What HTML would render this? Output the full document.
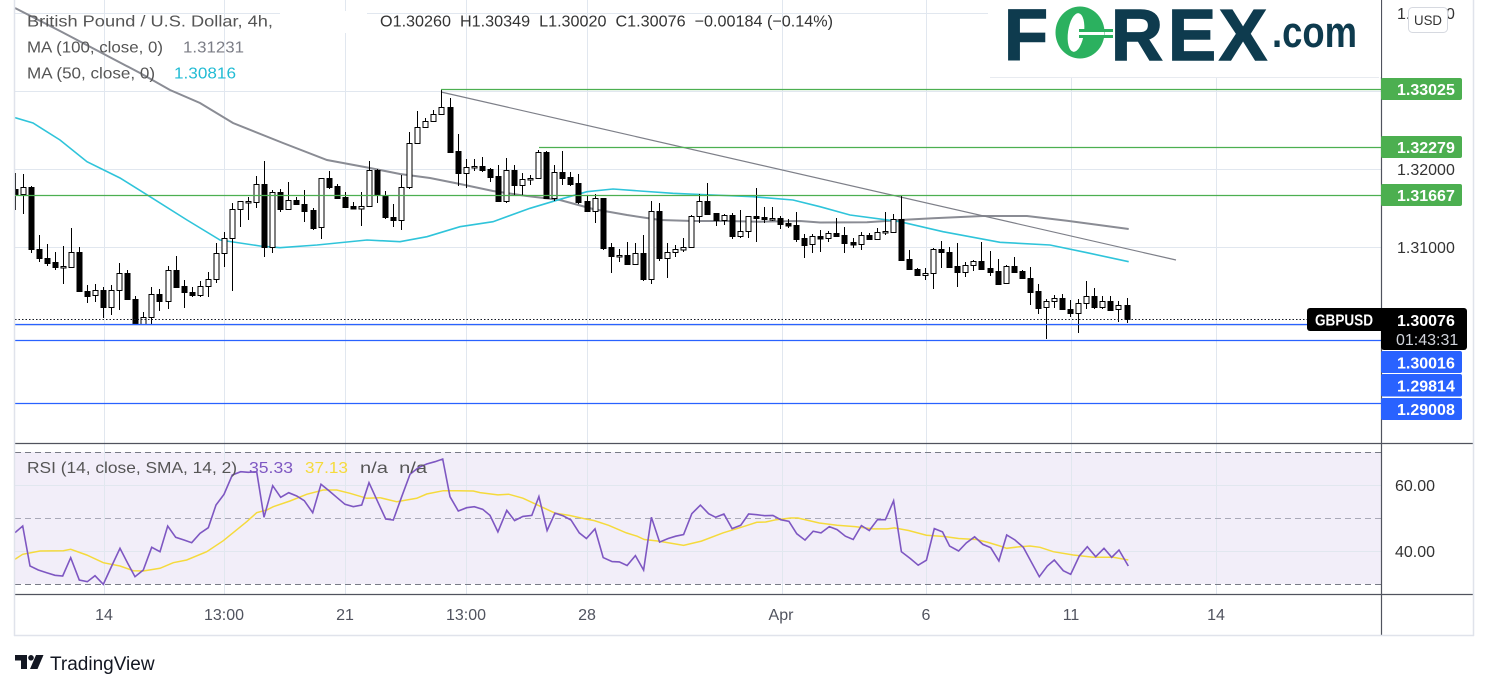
<!DOCTYPE html>
<html><head><meta charset="utf-8"><style>
html,body{margin:0;padding:0;background:#fff;}
svg{display:block;}
.w{fill:#fff;stroke:#000;stroke-width:1}
.b{fill:#000;stroke:#000;stroke-width:1}
text{font-family:"Liberation Sans",sans-serif;}
</style></head><body>
<svg width="1489" height="689" viewBox="0 0 1489 689" xmlns="http://www.w3.org/2000/svg">
<defs>
<clipPath id="pp"><rect x="15" y="0" width="1366" height="443"/></clipPath>
<clipPath id="rp"><rect x="15" y="444" width="1366" height="150"/></clipPath>
</defs>
<rect width="1489" height="689" fill="#fff"/>
<!-- RSI band -->
<rect x="15" y="452" width="1366" height="132" fill="#f2eef9"/>
<!-- grid -->
<g stroke="#e1e7ef" stroke-width="1">
<path d="M104.5 0V594M224.5 0V594M345.5 0V594M466.5 0V594M587.5 0V594M782.5 0V594M926.5 0V594M1071.5 0V594M1216.5 0V594"/>
<path d="M15 13.5H1381M15 91.5H1381M15 169.5H1381M15 247.5H1381M15 325.5H1381M15 403.5H1381"/>
<path d="M15 485.5H1381M15 551.5H1381"/>
</g>
<!-- RSI dashed -->
<path d="M15 452.5H1381M15 584.5H1381" stroke="#787b86" stroke-dasharray="6 4"/>
<path d="M15 518.5H1381" stroke="#a9a9b8" stroke-dasharray="6 4"/>

<!-- white redaction -->
<rect x="280" y="11" width="87" height="22" fill="#fff"/>

<g clip-path="url(#pp)">
<!-- MA100 -->
<polyline fill="none" stroke="#8a8c94" stroke-width="2" points="15,8 60,31 100,52 140,73 170,90 200,103 233,123 283,143 327,160 370,168 400,174 430,178 460,184 493,191 527,196 560,200 593,209 627,215 660,220 693,221 727,221 760,221.7 800,221 820,222.5 867,222.3 900,220 933,218.3 983,216 1027,216 1067,220.7 1128.7,229"/>
<!-- MA50 -->
<polyline fill="none" stroke="#2fc4da" stroke-width="1.6" points="15,117.7 33,123 60,140 87,161.7 120,178 150,196.7 187,220 220,240 260,246 280,247.7 317,245 367,240 400,241.7 427,236.7 460,226.7 493,221.7 530,208.3 560,199.3 587,191.7 613,189 640,191 673,193.3 713,195 753,196.7 793,200 820,206.7 850,215 900,221.7 943,231.7 1000,242.3 1050,245 1087,252.7 1128.7,261.7"/>
<!-- trend line -->
<line x1="441" y1="92" x2="1176" y2="260" stroke="#7d7f88" stroke-width="1.2"/>

<!-- candles -->
<path stroke="#000" stroke-width="1" fill="none" d="M15.5 173V210 M23.5 174V214 M31.5 186V253 M39.5 235V262 M47.5 244V266 M55.5 252V270 M63.5 246V284 M71.5 228V267 M79.5 247V291 M87.5 285V303 M95.5 284V302 M103.5 287V318 M111.5 285V315 M119.5 263V310 M127.5 270V299 M135.5 296V325 M143.5 312V325 M151.5 287V324 M159.5 289V311 M168.5 266V309 M176.5 256V287 M184.5 280V308 M192.5 287V297 M200.5 281V297 M208.5 272V297 M216.5 243V283 M224.5 232V267 M232.5 203V291 M240.5 201V227 M248.5 197V220 M256.5 176V208 M264.5 161V257 M272.5 190V253 M280.5 189V212 M288.5 182V210 M296.5 197V205 M304.5 190V222 M313.5 208V230 M321.5 178V239 M329.5 171V189 M337.5 184V198 M345.5 192V207 M353.5 202V209 M361.5 192V226 M369.5 161V206 M377.5 169V203 M385.5 191V219 M393.5 204V227 M401.5 175V230 M409.5 132V189 M417.5 111V143 M425.5 118V127 M433.5 110V121 M441.5 90V114 M450.5 98V153 M458.5 134V186 M466.5 159V188 M474.5 159V171 M482.5 157V172 M490.5 168V182 M498.5 165V202 M506.5 158V203 M514.5 165V195 M522.5 173V195 M530.5 175V185 M538.5 150V179 M546.5 151V199 M554.5 165V201 M562.5 151V185 M570.5 172V186 M578.5 174V204 M587.5 196V211 M595.5 194V223 M603.5 198V250 M611.5 243V273 M619.5 249V262 M627.5 242V264 M635.5 243V264 M643.5 235V281 M651.5 201V284 M659.5 203V261 M667.5 243V278 M675.5 245V257 M683.5 238V252 M691.5 215V247 M699.5 194V223 M707.5 183V215 M716.5 213V226 M724.5 214V225 M732.5 213V239 M740.5 210V238 M748.5 216V238 M756.5 188V242 M764.5 207V223 M772.5 207V221 M780.5 216V229 M788.5 219V228 M796.5 212V242 M804.5 234V258 M812.5 234V253 M820.5 230V252 M828.5 231V242 M836.5 218V237 M844.5 227V253 M853.5 238V248 M861.5 232V250 M869.5 233V240 M877.5 228V240 M885.5 212V235 M893.5 214V233 M901.5 196V261 M909.5 250V270 M917.5 268V276 M925.5 268V280 M933.5 248V289 M941.5 241V268 M949.5 247V268 M957.5 243V287 M965.5 262V277 M973.5 260V271 M981.5 242V269 M990.5 251V276 M998.5 259V284 M1006.5 265V283 M1014.5 257V273 M1022.5 270V278 M1030.5 267V305 M1038.5 284V314 M1046.5 299V339 M1054.5 295V308 M1062.5 294V309 M1070.5 300V317 M1078.5 299V333 M1086.5 281V309 M1094.5 288V309 M1102.5 296V309 M1110.5 296V310 M1118.5 301V322 M1127.5 298V323"/>
<rect class="b" x="13" y="189.5" width="5" height="6"/>
<rect class="w" x="21" y="187.5" width="5" height="7"/>
<rect class="b" x="29" y="187.5" width="5" height="62"/>
<rect class="b" x="37" y="249.5" width="5" height="9"/>
<rect class="b" x="45" y="258.5" width="5" height="5"/>
<rect class="b" x="53" y="262.5" width="5" height="5"/>
<rect class="w" x="61" y="266.5" width="5" height="1.5"/>
<rect class="w" x="69" y="252.5" width="5" height="15"/>
<rect class="b" x="77" y="252.5" width="5" height="39"/>
<rect class="b" x="85" y="291.5" width="5" height="5"/>
<rect class="w" x="93" y="290.5" width="5" height="5"/>
<rect class="b" x="101" y="290.5" width="5" height="17"/>
<rect class="w" x="109" y="290.5" width="5" height="17"/>
<rect class="w" x="117" y="273.5" width="5" height="17"/>
<rect class="b" x="125" y="273.5" width="5" height="26"/>
<rect class="b" x="133" y="299.5" width="5" height="25"/>
<rect class="w" x="141" y="317.5" width="5" height="7"/>
<rect class="w" x="149" y="294.5" width="5" height="23"/>
<rect class="b" x="157" y="294.5" width="5" height="7"/>
<rect class="w" x="166" y="270.5" width="5" height="31"/>
<rect class="b" x="174" y="270.5" width="5" height="17"/>
<rect class="b" x="182" y="286.5" width="5" height="6"/>
<rect class="b" x="190" y="292.5" width="5" height="3"/>
<rect class="w" x="198" y="286.5" width="5" height="9"/>
<rect class="w" x="206" y="279.5" width="5" height="7"/>
<rect class="w" x="214" y="253.5" width="5" height="26"/>
<rect class="w" x="222" y="238.5" width="5" height="15"/>
<rect class="w" x="230" y="209.5" width="5" height="29"/>
<rect class="w" x="238" y="201.5" width="5" height="8"/>
<rect class="w" x="246" y="201.5" width="5" height="1.5"/>
<rect class="w" x="254" y="184.5" width="5" height="18"/>
<rect class="b" x="262" y="184.5" width="5" height="63"/>
<rect class="w" x="270" y="192.5" width="5" height="55"/>
<rect class="b" x="278" y="192.5" width="5" height="17"/>
<rect class="w" x="286" y="200.5" width="5" height="9"/>
<rect class="b" x="294" y="200.5" width="5" height="4"/>
<rect class="b" x="302" y="204.5" width="5" height="7"/>
<rect class="b" x="311" y="210.5" width="5" height="18"/>
<rect class="w" x="319" y="178.5" width="5" height="49"/>
<rect class="b" x="327" y="178.5" width="5" height="9"/>
<rect class="b" x="335" y="186.5" width="5" height="12"/>
<rect class="b" x="343" y="197.5" width="5" height="10"/>
<rect class="b" x="351" y="206.5" width="5" height="2.5"/>
<rect class="w" x="359" y="206.5" width="5" height="2.5"/>
<rect class="w" x="367" y="170.5" width="5" height="36"/>
<rect class="b" x="375" y="170.5" width="5" height="25"/>
<rect class="b" x="383" y="195.5" width="5" height="22"/>
<rect class="b" x="391" y="217.5" width="5" height="3"/>
<rect class="w" x="399" y="187.5" width="5" height="33"/>
<rect class="w" x="407" y="143.5" width="5" height="44"/>
<rect class="w" x="415" y="127.5" width="5" height="16"/>
<rect class="w" x="423" y="121.5" width="5" height="6"/>
<rect class="w" x="431" y="114.5" width="5" height="7"/>
<rect class="w" x="439" y="107.5" width="5" height="7"/>
<rect class="b" x="448" y="107.5" width="5" height="45"/>
<rect class="b" x="456" y="151.5" width="5" height="22"/>
<rect class="w" x="464" y="167.5" width="5" height="6"/>
<rect class="w" x="472" y="166.5" width="5" height="1.5"/>
<rect class="b" x="480" y="166.5" width="5" height="4"/>
<rect class="b" x="488" y="169.5" width="5" height="8"/>
<rect class="b" x="496" y="176.5" width="5" height="25"/>
<rect class="w" x="504" y="170.5" width="5" height="31"/>
<rect class="b" x="512" y="170.5" width="5" height="15"/>
<rect class="w" x="520" y="179.5" width="5" height="6"/>
<rect class="w" x="528" y="178.5" width="5" height="1.5"/>
<rect class="w" x="536" y="152.5" width="5" height="26"/>
<rect class="b" x="544" y="152.5" width="5" height="46"/>
<rect class="w" x="552" y="172.5" width="5" height="26"/>
<rect class="b" x="560" y="172.5" width="5" height="6"/>
<rect class="b" x="568" y="177.5" width="5" height="7"/>
<rect class="b" x="576" y="183.5" width="5" height="19"/>
<rect class="b" x="585" y="201.5" width="5" height="10"/>
<rect class="w" x="593" y="198.5" width="5" height="13"/>
<rect class="b" x="601" y="198.5" width="5" height="50"/>
<rect class="b" x="609" y="247.5" width="5" height="9"/>
<rect class="w" x="617" y="255.5" width="5" height="1.5"/>
<rect class="b" x="625" y="255.5" width="5" height="9"/>
<rect class="w" x="633" y="253.5" width="5" height="11"/>
<rect class="b" x="641" y="253.5" width="5" height="26"/>
<rect class="w" x="649" y="211.5" width="5" height="68"/>
<rect class="b" x="657" y="211.5" width="5" height="47"/>
<rect class="w" x="665" y="252.5" width="5" height="6"/>
<rect class="w" x="673" y="249.5" width="5" height="3"/>
<rect class="w" x="681" y="247.5" width="5" height="2.5"/>
<rect class="w" x="689" y="216.5" width="5" height="31"/>
<rect class="w" x="697" y="201.5" width="5" height="15"/>
<rect class="b" x="705" y="201.5" width="5" height="13"/>
<rect class="b" x="714" y="213.5" width="5" height="7"/>
<rect class="w" x="722" y="215.5" width="5" height="5"/>
<rect class="b" x="730" y="215.5" width="5" height="21"/>
<rect class="w" x="738" y="231.5" width="5" height="5"/>
<rect class="w" x="746" y="216.5" width="5" height="15"/>
<rect class="b" x="754" y="216.5" width="5" height="2"/>
<rect class="b" x="762" y="217.5" width="5" height="2"/>
<rect class="w" x="770" y="218.5" width="5" height="1.5"/>
<rect class="b" x="778" y="218.5" width="5" height="6"/>
<rect class="b" x="786" y="223.5" width="5" height="2.5"/>
<rect class="b" x="794" y="225.5" width="5" height="14"/>
<rect class="b" x="802" y="238.5" width="5" height="7"/>
<rect class="w" x="810" y="236.5" width="5" height="8"/>
<rect class="b" x="818" y="236.5" width="5" height="2.5"/>
<rect class="w" x="826" y="233.5" width="5" height="5"/>
<rect class="b" x="834" y="233.5" width="5" height="3"/>
<rect class="b" x="842" y="235.5" width="5" height="8"/>
<rect class="b" x="851" y="242.5" width="5" height="2.5"/>
<rect class="w" x="859" y="235.5" width="5" height="9"/>
<rect class="b" x="867" y="235.5" width="5" height="4"/>
<rect class="w" x="875" y="232.5" width="5" height="7"/>
<rect class="w" x="883" y="231.5" width="5" height="1.5"/>
<rect class="w" x="891" y="219.5" width="5" height="13"/>
<rect class="b" x="899" y="219.5" width="5" height="41"/>
<rect class="b" x="907" y="259.5" width="5" height="10"/>
<rect class="b" x="915" y="269.5" width="5" height="6"/>
<rect class="w" x="923" y="273.5" width="5" height="2"/>
<rect class="w" x="931" y="249.5" width="5" height="24"/>
<rect class="b" x="939" y="249.5" width="5" height="3"/>
<rect class="b" x="947" y="252.5" width="5" height="15"/>
<rect class="b" x="955" y="266.5" width="5" height="6"/>
<rect class="w" x="963" y="265.5" width="5" height="7"/>
<rect class="w" x="971" y="261.5" width="5" height="4"/>
<rect class="b" x="979" y="261.5" width="5" height="8"/>
<rect class="b" x="988" y="268.5" width="5" height="4"/>
<rect class="b" x="996" y="271.5" width="5" height="13"/>
<rect class="w" x="1004" y="266.5" width="5" height="17"/>
<rect class="b" x="1012" y="266.5" width="5" height="6"/>
<rect class="b" x="1020" y="271.5" width="5" height="7"/>
<rect class="b" x="1028" y="278.5" width="5" height="14"/>
<rect class="b" x="1036" y="291.5" width="5" height="17"/>
<rect class="w" x="1044" y="301.5" width="5" height="6"/>
<rect class="w" x="1052" y="298.5" width="5" height="3"/>
<rect class="b" x="1060" y="298.5" width="5" height="11"/>
<rect class="b" x="1068" y="309.5" width="5" height="4"/>
<rect class="w" x="1076" y="303.5" width="5" height="10"/>
<rect class="w" x="1084" y="296.5" width="5" height="7"/>
<rect class="b" x="1092" y="296.5" width="5" height="11"/>
<rect class="w" x="1100" y="301.5" width="5" height="6"/>
<rect class="b" x="1108" y="301.5" width="5" height="9"/>
<rect class="w" x="1116" y="305.5" width="5" height="4"/>
<rect class="b" x="1125" y="305.5" width="5" height="14"/>

<!-- horizontal levels -->
<g stroke-width="1.2">
<path d="M441 89.5H1381M539 147.5H1381M15 195.5H1381" stroke="#4caf50"/>
<path d="M15 324.5H1381M15 340.5H1381M15 403.5H1381" stroke="#2962ff"/>
</g>
<path d="M15 319.5H1307" stroke="#131722" stroke-width="1" stroke-dasharray="1.5 2"/>
</g>

<!-- RSI lines -->
<g clip-path="url(#rp)">
<polyline fill="none" stroke="#f5da3c" stroke-width="1.5" points="15,559.3 22.7,554.3 40,551 63.3,550.7 70.7,549.3 86.7,555 103.3,562.7 120,566 133.3,570.7 143.3,571 160,568.3 173.3,562.7 186.7,560 206.7,551.7 223.3,540.7 246.7,521.7 256.7,512.7 266.7,510 273.3,506.7 290,501 306.7,494.3 323.3,490 336.7,490 350,493.3 366.7,498.3 380,497.7 396.7,501.7 416.7,498.3 426.7,494 443.3,490.7 456.7,490.7 473.3,491 480,492.6 497.9,494.9 508.6,494.2 522.9,498.2 537.1,504.8 555,513.1 569.3,515.4 587.1,519.3 594.3,520.6 608.6,525.3 626.4,532.9 637.1,536.2 644.3,539.5 658.6,541.1 683.6,545.4 701.4,541.1 722.9,532.9 744.3,526.3 756.8,522.3 765.7,522 776.4,519.7 790.7,518 797.9,518 819.3,523 837.1,525.3 855,526.6 872.9,528.9 887.1,528.9 894.3,527.9 908.6,530.5 926.4,535.2 944.3,536.5 958.6,538.5 976.4,539.5 987.1,542.1 1000,546 1006.7,548.3 1020,546.7 1030,546 1040,547.3 1053.3,551.7 1073.3,555 1093.3,557.3 1113.3,557.3 1128.3,560"/>
<polyline fill="none" stroke="#7e57c2" stroke-width="1.6" points="15,532.7 22.7,526 30,566 38.3,570 46.7,572.7 55,575.3 62.7,576 70.7,557.7 79.3,580 87.3,581.7 95,575.7 103.3,584.3 111.7,566 120,548.3 127.7,563.3 135,576.7 143.3,570 151.7,547.3 160,551.7 167.7,526 175.7,537.3 184,540 191.7,542.7 200,533.3 208.3,527.7 216,505 224,494.3 232.3,475 240.7,471.7 248.3,472.3 256.7,471.7 264,517.3 272.7,485.7 280.7,497.3 288.7,492.7 296.7,496 304.3,500.7 312.7,512.7 321,484.3 329.3,491 336.7,497.3 345,504.3 353.3,506.7 361.7,505 369,482.7 377.7,501.7 385.7,519 393.3,520 401.7,496.7 410,474.3 418.3,467.7 426.7,464 435,461.7 442.7,459 450,496.7 458.3,511 466.7,507.7 474.3,506.7 482.7,509.3 490,515.4 497.9,531.9 506.8,510.4 514.6,520.6 522.9,516.4 531.8,515.4 538.9,496.6 547.1,530.5 555,513.1 562.9,515.7 571,520 579.3,532.9 586.4,538.5 595,528.9 603.2,557.6 612.1,561.6 619.3,561.9 627.1,565.5 635.4,555.6 643.6,570.1 651.4,517.3 659.6,542.1 668.2,538.5 675.7,536.2 683.6,534.5 691.8,513.7 700.4,505.1 708.6,513.7 715.7,517.3 723.9,514 732.1,528.6 740.7,525.3 748.6,514 756.8,514.7 764.6,515.7 772.9,515.4 780.7,519.7 788.9,521.3 796.8,533.8 805,540.1 813.2,531.2 821,532.9 829.3,526.6 837.1,529.6 845.4,536.2 853.2,539.5 861.4,525.6 869.3,530.5 877.5,519.7 885.4,519.7 893.6,500.8 901.4,551.7 910.4,558.6 918.2,565.2 926.4,560.2 934.3,528.6 942.5,531.9 949.6,546.1 958.6,551 966.4,542.8 974.6,536.8 982.9,544.4 990.7,547.7 998.9,560.9 1006.7,535 1015,540 1023.3,547.3 1031.7,562.7 1039.3,576.7 1047.3,566 1054.3,560 1063.3,570.7 1070.7,574.3 1079.3,556 1087.3,546.7 1095.7,556.7 1104,548.3 1111.7,557.3 1119,550 1128.3,566"/>
</g>

<!-- axes / borders -->
<path d="M1381.5 0V635" stroke="#50535e" stroke-width="1.2"/>
<path d="M15 443.5H1474M15 594.5H1474" stroke="#50535e" stroke-width="1.2"/>
<path d="M14.5 0V636M1473.5 0V636M14 635.5H1474" stroke="#e0e3eb" stroke-width="1.5"/>

<!-- logo box -->
<rect x="988" y="0" width="393" height="77" fill="#fff"/>
<path d="M990 77.5H1379" stroke="#e8ebf0" stroke-width="1"/>
<g fill="#0e3b4e" stroke="#0e3b4e" stroke-width="1.5" font-weight="bold" font-size="72">
<text x="1004" y="60">F</text>
<text x="1111" y="60">R</text>
<text x="1168" y="60">E</text>
<text x="1219" y="60" textLength="48" lengthAdjust="spacingAndGlyphs">X</text>
</g>
<ellipse cx="1080" cy="32.5" rx="24.5" ry="26" fill="#2bb15f"/>
<ellipse cx="1076" cy="32.5" rx="8" ry="19.5" fill="#fff" transform="rotate(8 1076 32.5)"/>
<rect x="1079" y="29" width="34" height="3" fill="#2bb15f"/>
<rect x="1079" y="35" width="34" height="3" fill="#2bb15f"/>
<rect x="1082" y="32" width="22" height="3" fill="#fff"/>
<text x="1272" y="47" font-size="44" font-weight="bold" fill="#0e3b4e" textLength="85" lengthAdjust="spacingAndGlyphs">.com</text>

<!-- legend -->
<text x="27" y="26.5" font-size="16" fill="#555" textLength="246" lengthAdjust="spacingAndGlyphs">British Pound / U.S. Dollar, 4h,</text>
<text x="380" y="26.5" font-size="16" fill="#333" xml:space="preserve" textLength="453" lengthAdjust="spacingAndGlyphs">O1.30260  H1.30349  L1.30020  C1.30076  −0.00184 (−0.14%)</text>
<text x="27" y="52.5" font-size="16" fill="#555" textLength="136" lengthAdjust="spacingAndGlyphs">MA (100, close, 0)</text>
<text x="183" y="52.5" font-size="16" fill="#7b7d86" textLength="61" lengthAdjust="spacingAndGlyphs">1.31231</text>
<text x="27" y="78.5" font-size="16" fill="#555" textLength="128" lengthAdjust="spacingAndGlyphs">MA (50, close, 0)</text>
<text x="174" y="78.5" font-size="16" fill="#22bcd4" textLength="62" lengthAdjust="spacingAndGlyphs">1.30816</text>

<!-- RSI legend -->
<text x="27" y="473" font-size="16" fill="#555" textLength="210" lengthAdjust="spacingAndGlyphs">RSI (14, close, SMA, 14, 2)</text>
<text x="249" y="473" font-size="16" fill="#7e57c2" textLength="44" lengthAdjust="spacingAndGlyphs">35.33</text>
<text x="305" y="473" font-size="16" fill="#f5da3c" textLength="43" lengthAdjust="spacingAndGlyphs">37.13</text>
<text x="360" y="473" font-size="16" fill="#555" xml:space="preserve" textLength="67" lengthAdjust="spacingAndGlyphs">n/a  n/a</text>

<!-- price axis -->
<g font-size="16" fill="#333">
<text x="1397" y="19">1.34000</text>
<text x="1397" y="175">1.32000</text>
<text x="1397" y="253">1.31000</text>
<text x="1395" y="491">60.00</text>
<text x="1395" y="557">40.00</text>
</g>
<rect x="1408.5" y="7.5" width="39" height="25" rx="4" fill="#fff" stroke="#d6d9e0"/>
<text x="1414" y="25" font-size="14" fill="#333" textLength="28" lengthAdjust="spacingAndGlyphs">USD</text>

<g font-size="16" font-weight="bold" fill="#fff">
<rect x="1381" y="78" width="81" height="22" rx="2" fill="#4caf50"/>
<text x="1397" y="95">1.33025</text>
<rect x="1381" y="136" width="81" height="22" rx="2" fill="#4caf50"/>
<text x="1397" y="153">1.32279</text>
<rect x="1381" y="184" width="81" height="22" rx="2" fill="#4caf50"/>
<text x="1397" y="201">1.31667</text>

<rect x="1307" y="308" width="80" height="23" rx="3" fill="#000"/>
<text x="1315" y="325.5" textLength="58" lengthAdjust="spacingAndGlyphs">GBPUSD</text>
<rect x="1381" y="308" width="86" height="42" rx="3" fill="#000"/>
<text x="1397" y="326">1.30076</text>
<text x="1396" y="345" fill="#d1d4dc" font-weight="normal">01:43:31</text>

<rect x="1381" y="351" width="81" height="22" rx="2" fill="#2962ff"/>
<text x="1397" y="368.5">1.30016</text>
<rect x="1381" y="374" width="81" height="22.5" rx="2" fill="#2962ff"/>
<text x="1397" y="391.5">1.29814</text>
<rect x="1381" y="398" width="81" height="22" rx="2" fill="#2962ff"/>
<text x="1397" y="415">1.29008</text>
</g>

<!-- time axis -->
<g font-size="16" fill="#50535e" text-anchor="middle">
<text x="104" y="620">14</text>
<text x="224" y="620">13:00</text>
<text x="345" y="620">21</text>
<text x="466" y="620">13:00</text>
<text x="587" y="620">28</text>
<text x="781" y="620">Apr</text>
<text x="926" y="620">6</text>
<text x="1071" y="620">11</text>
<text x="1216" y="620">14</text>
</g>

<!-- TradingView footer -->
<path d="M15 655H27V669H21V660.5H15Z" fill="#131722"/>
<circle cx="31" cy="657.8" r="2.8" fill="#131722"/>
<path d="M36 655H43.5L37.5 669H30Z" fill="#131722"/>
<text x="50" y="670" font-size="19" fill="#131722">TradingView</text>
</svg>
</body></html>
